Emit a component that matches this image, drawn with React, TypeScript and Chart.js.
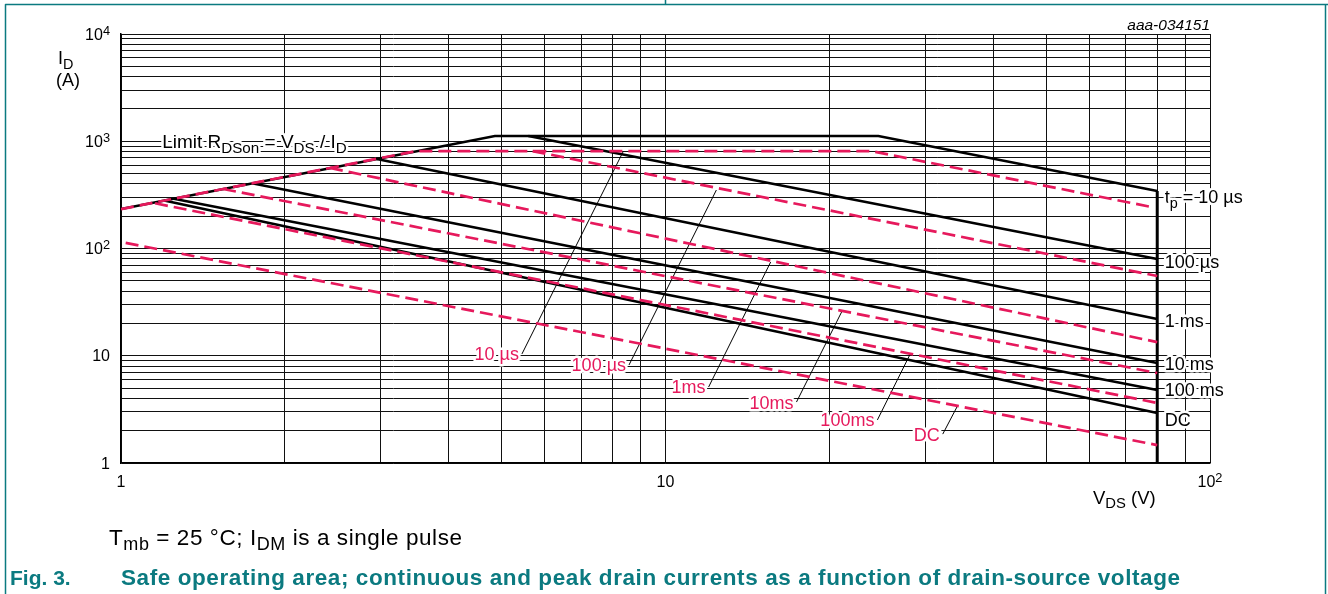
import React, { useEffect, useRef } from 'react';
import { Chart, registerables } from 'chart.js';

Chart.register(...registerables);

// ---------- axis ranges & ticks ----------
const X_MIN = 1;
const X_MAX = 100;
const Y_MIN = 1;
const Y_MAX = 10000;
const mantissas = [1, 2, 3, 4, 5, 6, 7, 8, 9];
const xDecades = [1, 10];
const yDecades = [1, 10, 100, 1000];
const xTickValues = [1, 10, 100];
const xTickLabels = ['1', '10', '10^{2}'];
const yTickValues = [1, 10, 100, 1000, 10000];
const yTickLabels = ['1', '10', '10^{2}', '10^{3}', '10^{4}'];

// ---------- solid (black) curves: [V_DS (V), I_D (A)] ----------
const solid10us = [[1, 233], [4.86, 1119], [24.6, 1119], [80, 344]];
const solid100us = [[5.6, 1119], [80, 79.8]];
const solid1ms = [[2.95, 684], [80, 22]];
const solid10ms = [[1.74, 405], [80, 8.56]];
const solid100ms = [[1.25, 291], [80, 4.8]];
const solidDC = [[1.2, 280], [80, 2.93]];
const vdsLimit = [[80, 1], [80, 344]];

// ---------- dashed (red) curves ----------
const dashed10us = [[1, 233], [3.48, 810], [23.9, 810], [78, 244]];
const dashed100us = [[5.7, 810], [80, 55.4]];
const dashed1ms = [[2.42, 564], [80, 13.4]];
const dashed10ms = [[1.54, 359], [80, 6.9]];
const dashed100ms = [[1.155, 264], [80, 3.63]];
const dashedDC = [[1.02, 113], [80, 1.47]];

// ---------- labels ----------
const limitLabel = 'Limit R_{DSon} = V_{DS} / I_{D}';
const limitAnchor = [1.19, 1000];
const rightLabelTexts = ['t_{p} = 10 µs', '100 µs', '1 ms', '10 ms', '100 ms', 'DC'];
const rightLabelV = 82.6;
const rightLabelI = [302, 74.8, 21.1, 8.38, 4.8, 2.52];
const leaderLabels = ['10 µs', '100 µs', '1ms', '10ms', '100ms', 'DC'];
const leaderFrom = [[5.45, 10.4], [8.57, 8.2], [12.0, 5.11], [17.4, 3.7], [24.5, 2.52], [32.3, 1.86]];
const leaderTo = [[8.36, 800], [12.4, 351], [15.6, 74.8], [21.1, 26.1], [28.1, 10.2], [34.3, 3.33]];

const RED = '#e6195c';
const TEAL = '#0b7a80';
const FONT = "'Liberation Sans', Arial, Helvetica, sans-serif";

const toPts = (a: number[][]) => a.map(([x, y]) => ({ x, y }));

type Seg = { t: string; k: 'n' | 'sub' | 'sup' };
function parseRich(s: string): Seg[] {
  const out: Seg[] = [];
  const re = /([_^])\{([^}]*)\}/g;
  let last = 0;
  let m: RegExpExecArray | null;
  while ((m = re.exec(s))) {
    if (m.index > last) out.push({ t: s.slice(last, m.index), k: 'n' });
    out.push({ t: m[2], k: m[1] === '_' ? 'sub' : 'sup' });
    last = m.index + m[0].length;
  }
  if (last < s.length) out.push({ t: s.slice(last), k: 'n' });
  return out;
}

function drawRich(
  ctx: CanvasRenderingContext2D,
  text: string,
  x: number,
  y: number,
  size: number,
  opts: {
    align?: 'left' | 'right' | 'center';
    color?: string;
    halo?: boolean;
    weight?: string;
    style?: string;
    fitWidth?: number;
  } = {}
) {
  const segs = parseRich(text);
  const fontFor = (k: string) => {
    const sz = k === 'n' ? size : size * 0.8;
    return `${opts.style || 'normal'} ${opts.weight || 'normal'} ${sz}px ${FONT}`;
  };
  const c: any = ctx;
  c.letterSpacing = '0px';
  let total = 0;
  let chars = 0;
  const widths = segs.map((s) => {
    ctx.font = fontFor(s.k);
    const w = ctx.measureText(s.t).width;
    total += w;
    chars += s.t.length;
    return w;
  });
  let spacing = 0;
  if (opts.fitWidth && chars > 1) {
    spacing = (opts.fitWidth - total) / (chars - 1);
    total = opts.fitWidth;
  }
  const align = opts.align || 'left';
  let cx = align === 'left' ? x : align === 'right' ? x - total : x - total / 2;
  const base = y + 0.358 * size;
  ctx.textAlign = 'left';
  ctx.textBaseline = 'alphabetic';
  c.letterSpacing = `${spacing}px`;
  segs.forEach((s, i) => {
    ctx.font = fontFor(s.k);
    const by = s.k === 'sub' ? base + 0.24 * size : s.k === 'sup' ? base - 0.3 * size : base;
    if (opts.halo) {
      ctx.strokeStyle = '#fff';
      ctx.lineWidth = 5;
      ctx.lineJoin = 'round';
      ctx.strokeText(s.t, cx, by);
    }
    ctx.fillStyle = opts.color || '#000';
    ctx.fillText(s.t, cx, by);
    cx += widths[i] + spacing * s.t.length;
  });
  c.letterSpacing = '0px';
}

const annotPlugin = {
  id: 'annot',
  afterDatasetsDraw(chart: any) {
    const { ctx, chartArea } = chart;
    const xs = chart.scales.x;
    const ys = chart.scales.y;
    ctx.save();
    // limit label
    drawRich(ctx, limitLabel, xs.getPixelForValue(limitAnchor[0]), ys.getPixelForValue(limitAnchor[1]), 19, { halo: true });
    // right-side labels
    rightLabelTexts.forEach((t, i) =>
      drawRich(ctx, t, xs.getPixelForValue(rightLabelV), ys.getPixelForValue(rightLabelI[i]), 18, { halo: true })
    );
    // red leader labels
    leaderLabels.forEach((t, i) =>
      drawRich(ctx, t, xs.getPixelForValue(leaderFrom[i][0]) - 3, ys.getPixelForValue(leaderFrom[i][1]), 18, {
        align: 'right',
        color: RED,
        halo: true,
      })
    );
    // tick labels
    yTickValues.forEach((v, i) =>
      drawRich(ctx, yTickLabels[i], chartArea.left - 11, ys.getPixelForValue(v), 16, { align: 'right' })
    );
    xTickValues.forEach((v, i) =>
      drawRich(ctx, xTickLabels[i], xs.getPixelForValue(v), chartArea.bottom + 18, 16, { align: 'center' })
    );
    // axis titles
    drawRich(ctx, 'I_{D}', 58, 58, 18);
    drawRich(ctx, '(A)', 68, 80, 18, { align: 'center' });
    drawRich(ctx, 'V_{DS} (V)', 1093, 497, 18.5);
    drawRich(ctx, 'aaa-034151', chartArea.right, 24, 15.5, { align: 'right', style: 'italic' });
    // notes & caption
    drawRich(ctx, 'T_{mb} = 25 °C; I_{DM} is a single pulse', 109, 537, 22.5, { fitWidth: 353 });
    drawRich(ctx, 'Fig. 3.', 10, 577, 21, { color: TEAL, weight: 'bold' });
    drawRich(
      ctx,
      'Safe operating area; continuous and peak drain currents as a function of drain-source voltage',
      121,
      577,
      22.5,
      { color: TEAL, weight: 'bold', fitWidth: 1059 }
    );
    // frame
    ctx.strokeStyle = TEAL;
    ctx.lineWidth = 1.5;
    ctx.beginPath();
    ctx.moveTo(5.5, 594);
    ctx.lineTo(5.5, 4.5);
    ctx.lineTo(1328, 4.5);
    ctx.moveTo(1325.5, 4.5);
    ctx.lineTo(1325.5, 594);
    ctx.moveTo(665.5, 0);
    ctx.lineTo(665.5, 4.5);
    ctx.stroke();
    ctx.restore();
  },
};

export default function App() {
  const ref = useRef<HTMLCanvasElement>(null);
  useEffect(() => {
    const gridX = xDecades.flatMap((d) => mantissas.map((m) => m * d)).concat([X_MAX]);
    const gridY = yDecades.flatMap((d) => mantissas.map((m) => m * d)).concat([Y_MAX]);
    const dashedSeries = [dashed10us, dashed100us, dashed1ms, dashed10ms, dashed100ms, dashedDC];
    const solidSeries = [solid10us, solid100us, solid1ms, solid10ms, solid100ms, solidDC];
    const datasets: any[] = [
      ...dashedSeries.map((d) => ({
        data: toPts(d),
        borderColor: RED,
        borderWidth: 2.7,
        borderDash: [13, 6],
        pointRadius: 0,
        fill: false,
        tension: 0,
      })),
      ...solidSeries.map((d) => ({
        data: toPts(d),
        borderColor: '#000',
        borderWidth: 2.5,
        pointRadius: 0,
        fill: false,
        tension: 0,
      })),
      { data: toPts(vdsLimit), borderColor: '#000', borderWidth: 3, pointRadius: 0, fill: false },
      ...leaderFrom.map((p, i) => ({
        data: toPts([p, leaderTo[i]]),
        borderColor: '#000',
        borderWidth: 1,
        pointRadius: 0,
        fill: false,
      })),
    ];
    const chart = new Chart(ref.current!, {
      type: 'line',
      data: { datasets },
      options: {
        animation: false,
        responsive: true,
        maintainAspectRatio: false,
        layout: { padding: { left: 121, top: 34, right: 118, bottom: 131 } },
        plugins: { legend: { display: false }, tooltip: { enabled: false } },
        events: [],
        scales: {
          x: {
            type: 'logarithmic',
            min: X_MIN,
            max: X_MAX,
            afterBuildTicks: (s: any) => {
              s.ticks = gridX.map((v) => ({ value: v }));
            },
            afterFit: (s: any) => {
              s.height = 0;
            },
            ticks: { display: false, autoSkip: false },
            grid: { color: '#111', lineWidth: 1, drawTicks: false },
            border: { display: true, color: '#000', width: 1.5 },
          },
          y: {
            type: 'logarithmic',
            min: Y_MIN,
            max: Y_MAX,
            afterBuildTicks: (s: any) => {
              s.ticks = gridY.map((v) => ({ value: v }));
            },
            afterFit: (s: any) => {
              s.width = 0;
            },
            ticks: { display: false, autoSkip: false },
            grid: { color: '#111', lineWidth: 1, drawTicks: false },
            border: { display: true, color: '#000', width: 1.5 },
          },
        },
      } as any,
      plugins: [annotPlugin],
    });
    return () => chart.destroy();
  }, []);
  return (
    <div style={{ position: 'fixed', left: 0, top: 0, width: 1328, height: 594, background: '#fff' }}>
      <canvas ref={ref} />
    </div>
  );
}
